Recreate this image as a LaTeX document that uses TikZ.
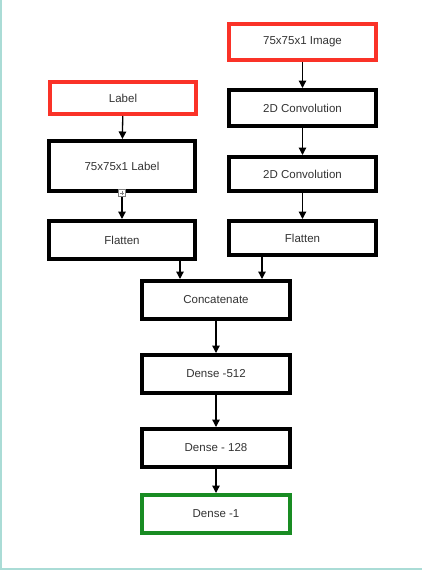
\documentclass[tikz,border=0pt]{standalone}
\usepackage{fontspec}
\setmainfont{Liberation Sans}
\usepackage{tikz}
\usetikzlibrary{arrows.meta}
\definecolor{boxred}{RGB}{250,50,40}
\definecolor{boxgreen}{RGB}{25,140,35}
\definecolor{edgeteal}{RGB}{170,220,214}

\begin{document}
\begin{tikzpicture}[x=1pt,y=-1pt,
  layer/.style={draw=black, line width=4pt, fill=white, minimum width=146pt, minimum height=36pt, inner sep=0pt, font=\fontsize{11.5}{13}\selectfont, text=black!80},
  inlayer/.style={layer, draw=boxred},
  outlayer/.style={layer, draw=boxgreen},
  arr/.style={-{Triangle[length=7.5pt,width=7.5pt]}, line width=1.3pt}]
\useasboundingbox (0,0) rectangle (422,570);
\draw [edgeteal, line width=2pt] (1,0) -- (1,570);
\draw [edgeteal, line width=1.5pt] (0,569) -- (422,569);

% image branch
\node [inlayer, minimum width=147pt] (img) at (302.5,42) {75x75x1 Image};
\node [layer, minimum width=147pt] (conv1) at (302.5,108) {2D Convolution};
\node [layer, minimum width=147pt, minimum height=34pt] (conv2) at (302.5,174) {2D Convolution};
\node [layer, minimum width=147pt, minimum height=34pt] (flatR) at (302.5,238) {Flatten};

% label branch
\node [inlayer, minimum height=32pt] (lab) at (123,98) {Label};
\node [layer, minimum height=50pt] (labin) at (122,166) {75x75x1 Label};
\node [layer, minimum height=38pt] (flatL) at (122,240) {Flatten};
\node [draw=gray, fill=white, line width=0.6pt, minimum size=7pt, inner sep=0pt] (tog) at (labin.south) {};
\draw [gray, line width=0.6pt] ([yshift=-2pt]tog.center) -- ([yshift=2pt]tog.center);
\draw [gray, line width=0.6pt] ([xshift=-2pt]tog.center) -- ([xshift=2pt]tog.center);

% merged part
\node [layer, minimum width=148pt, minimum height=38pt] (concat) at (216,300) {Concatenate};
\node [layer, minimum width=148pt, minimum height=38pt] (d512) at (216,374) {Dense -512};
\node [layer, minimum width=148pt, minimum height=38pt] (d128) at (216,448) {Dense - 128};
\node [outlayer, minimum width=148pt, minimum height=38pt] (d1) at (216,514) {Dense -1};
\coordinate (mL) at ([xshift=40pt]concat.north west);
\coordinate (mR) at ([xshift=-30pt]concat.north east);

\draw [arr] (img) -- (conv1);
\draw [arr] (conv1) -- (conv2);
\draw [arr] (conv2) -- (flatR);
\draw [arr] (lab) -- (labin);
\draw [arr] (tog.south) -- (flatL.north);
\draw [arr] (flatL.south -| mL) -- (mL);
\draw [arr] (flatR.south -| mR) -- (mR);
\draw [arr] (concat) -- (d512);
\draw [arr] (d512) -- (d128);
\draw [arr] (d128) -- (d1);
\end{tikzpicture}
\end{document}
